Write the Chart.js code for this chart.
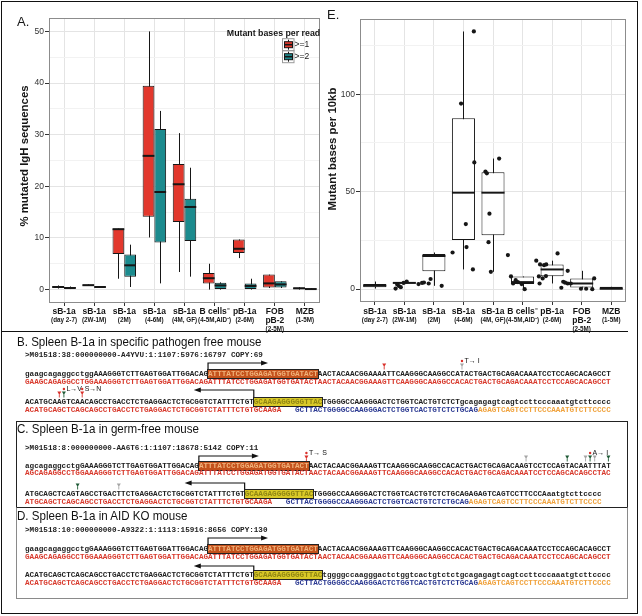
<!DOCTYPE html>
<html>
<head>
<meta charset="utf-8">
<script src="https://cdn.jsdelivr.net/npm/chart.js@4.4.1/dist/chart.umd.min.js"></script>
<style>
body { margin: 0; background: #fff; }
#fig { position: relative; width: 642px; height: 616px; overflow: hidden; font-family: "Liberation Sans", Arial, sans-serif; }
canvas { position: absolute; top: 0; }
.frame { position: absolute; box-sizing: border-box; }
.title { position: absolute; font-size: 13px; line-height: 16px; color: #111; white-space: nowrap; transform: scaleX(0.89); transform-origin: 0 50%; }
.seq { position: absolute; left: 25px; font: bold 7.63px/8px "Liberation Mono", "Courier New", monospace; white-space: pre; color: #222; }
.rd { color: #222; }
.gr { color: #d8392c; }
.bl { color: #2c3a92; }
.or { color: #f0a23c; }
.boxor { background: #c4521c; color: #f1b27a; outline: 1px solid #222; }
.boxye { background: #d9c928; color: #8f8512; outline: 1px solid #222; }
.lab { position: absolute; font-size: 7px; line-height: 8px; color: #111; white-space: nowrap; }
</style>
</head>
<body>
<div id="fig">
  <canvas id="chartA" width="322" height="333" style="left:0"></canvas>
  <canvas id="chartE" width="317" height="333" style="left:320px"></canvas>
  <div class="frame" style="left:1px;top:1px;width:637px;height:613px;border:1.5px solid #111"></div>
  <div class="frame" style="left:1px;top:331px;width:627px;height:0;border-top:1.5px solid #111"></div>
  <div class="frame" style="left:16px;top:421px;width:612px;height:87px;border:1px solid #222"></div>
  <div class="frame" style="left:16px;top:507px;width:612px;height:92px;border:1.5px solid #8a8a8a;border-top:1px solid #222"></div>
  <svg id="marks" width="642" height="616" style="position:absolute;left:0;top:0"></svg>
</div>
<script>
// ---- categories (shared by panels A and E)
const categories = ['sB-1a', 'sB-1a', 'sB-1a', 'sB-1a', 'sB-1a', 'B cells⁻', 'pB-1a', 'FOB', 'MZB'];
const categoryLine2 = ['', '', '', '', '', '', '', 'pB-2', ''];
const categorySub = ['(day 2-7)', '(2W-1M)', '(2M)', '(4-6M)', '(4M, GF)', '(4-5M,AID⁻)', '(2-6M)', '(2-5M)', '(1-5M)'];

// ---- panel A: % mutated IgH sequences, >=1 mutant base per read
const redLow  = [0.2, 0.7, 2.1, 10.1, 3.4, 0.0, 6.1, 0.3, 0.0];
const redQ1   = [0.3, 0.75, 6.9, 14.1, 13.1, 1.2, 7.1, 0.4, 0.1];
const redMed  = [0.5, 0.85, 11.7, 25.9, 20.4, 2.2, 7.9, 1.2, 0.25];
const redQ3   = [0.7, 1.0, 11.8, 39.5, 24.3, 3.2, 9.7, 2.9, 0.4];
const redHigh = [0.8, 1.0, 11.8, 50.0, 30.3, 5.0, 9.7, 2.9, 0.45];
// >=2 mutant bases per read
const tealLow  = [0.1, 0.4, 0.5, 1.2, 2.5, 0.0, 0.0, 0.3, 0.0];
const tealQ1   = [0.2, 0.45, 2.5, 9.1, 9.4, 0.1, 0.1, 0.4, 0.05];
const tealMed  = [0.3, 0.5, 4.7, 18.9, 16.0, 0.8, 0.7, 1.0, 0.1];
const tealQ3   = [0.5, 0.55, 6.8, 31.1, 17.6, 1.3, 1.2, 1.6, 0.2];
const tealHigh = [0.6, 0.6, 8.7, 34.6, 23.6, 1.4, 2.1, 1.6, 0.25];
const legendLabels = ['>=1', '>=2'];

// ---- panel E: mutant bases per 10kb
const eLow  = [0.3, 2.6, 1.7, 10.1, 8.9, 0.0, 2.9, 0.7, 0.0];
const eQ1   = [1.0, 2.9, 9.2, 25.2, 27.7, 2.6, 6.6, 0.9, 0.0];
const eMed  = [1.8, 3.2, 17.0, 49.5, 49.5, 3.6, 10.1, 2.9, 0.2];
const eQ3   = [2.6, 3.4, 18.0, 87.7, 60.0, 6.5, 12.7, 5.5, 1.2];
const eHigh = [3.9, 3.4, 18.8, 132.2, 67.0, 6.5, 14.6, 9.4, 1.2];
// individual mice, horizontal jitter (in category widths) and value
const ePointOff = [
  [-0.12, -0.05, 0.02, 0.1, 0.22, 0.35],
  [-0.15, 0.0, 0.08, 0.28, 0.36],
  [-0.17, 0.29],
  [-0.35, 0.19, 0.21, -0.15, -0.12, 0.15],
  [-0.32, -0.26, 0.26, -0.15, -0.19, -0.09],
  [-0.37, -0.24, -0.15, -0.04, 0.05, 0.21, 0.34],
  [-0.17, -0.01, 0.16, 0.25, -0.06, 0.1, -0.03, 0.24],
  [-0.27, 0.16, -0.03, 0.16, -0.11, 0.29, 0.05],
  [0.28, -0.06, 0.2, -0.28]
];
const ePointVal = [
  [0.3, 2.4, 1.6, 1.0, 3.2, 3.9],
  [2.6, 3.2, 3.4, 2.9, 5.2],
  [1.7, 18.8],
  [95.2, 132.2, 65.0, 33.4, 21.6, 10.1],
  [60.3, 59.4, 67.0, 38.7, 24.1, 8.9],
  [17.5, 6.5, 2.9, 4.6, 3.6, 2.6, 0.0],
  [14.6, 12.7, 12.3, 12.7, 6.5, 5.5, 2.9, 6.7],
  [18.3, 9.4, 3.8, 2.9, 0.7, 2.9, 3.3],
  [5.5, 0.2, 0.0, 0.2]
];

const RED = '#e2382d';
const TEAL = '#1c8b8e';
const INK = '#161616';
const FONT = '"Liberation Sans", Arial, sans-serif';
Chart.defaults.font.family = FONT;

// whiskers under the box, median line on top of it
const boxParts = {
  id: 'boxParts',
  beforeDatasetDraw(chart, args) {
    const ds = chart.data.datasets[args.index];
    if (!ds.whiskerLow) return;
    const y = chart.scales.y, ctx = chart.ctx;
    ctx.save();
    ctx.strokeStyle = INK;
    ctx.lineWidth = 1;
    args.meta.data.forEach((bar, i) => {
      const x = Math.round(bar.x) + 0.5;
      ctx.beginPath();
      ctx.moveTo(x, y.getPixelForValue(ds.whiskerLow[i]));
      ctx.lineTo(x, y.getPixelForValue(ds.whiskerHigh[i]));
      ctx.stroke();
    });
    ctx.restore();
  },
  afterDatasetDraw(chart, args) {
    const ds = chart.data.datasets[args.index];
    if (!ds.median) return;
    const y = chart.scales.y, ctx = chart.ctx;
    ctx.save();
    ctx.strokeStyle = INK;
    ctx.lineWidth = 2;
    args.meta.data.forEach((bar, i) => {
      const ym = y.getPixelForValue(ds.median[i]);
      ctx.beginPath();
      ctx.moveTo(bar.x - bar.width / 2, ym);
      ctx.lineTo(bar.x + bar.width / 2, ym);
      ctx.stroke();
    });
    ctx.restore();
  }
};

// panel border, category labels, axis title and panel letter
function decorate(chart, letter, letterX, letterY, yTitle, titleX, titleY) {
  const ctx = chart.ctx, a = chart.chartArea, x = chart.scales.x;
  ctx.save();
  ctx.strokeStyle = '#8c8c8c';
  ctx.lineWidth = 1;
  ctx.strokeRect(a.left + 0.5, a.top + 0.5, a.right - a.left - 1, a.bottom - a.top - 1);

  ctx.fillStyle = INK;
  ctx.textAlign = 'center';
  ctx.textBaseline = 'middle';
  categories.forEach((name, i) => {
    const px = x.getPixelForValue(i);
    ctx.font = 'bold 8.5px ' + FONT;
    ctx.fillText(name, px, 311.5);
    let ys = 320;
    if (categoryLine2[i]) {
      ctx.fillText(categoryLine2[i], px, 320.5);
      ys = 329.5;
    }
    ctx.font = 'bold 6.3px ' + FONT;
    ctx.fillText(categorySub[i], px, ys);
  });

  ctx.font = '13px ' + FONT;
  ctx.textAlign = 'left';
  ctx.fillText(letter, letterX, letterY);

  ctx.translate(titleX, titleY);
  ctx.rotate(-Math.PI / 2);
  ctx.font = 'bold 11.4px ' + FONT;
  ctx.textAlign = 'center';
  ctx.fillText(yTitle, 0, 0);
  ctx.restore();
}

function yGrid(major, minor) {
  return {
    color: c => c.tick.value % major === 0 ? '#e4e4e4' : (c.tick.value % minor === 0 ? '#f2f2f2' : 'transparent'),
    tickColor: c => c.tick.value % major === 0 ? '#333' : 'transparent',
    tickLength: 4
  };
}

const xAxis = (h) => ({
  grid: { offset: false, color: '#e4e4e4', tickColor: '#333', tickLength: 3 },
  border: { display: false },
  ticks: { display: false },
  afterFit: s => { s.height = h; }
});

// ---- panel A chart
new Chart(document.getElementById('chartA'), {
  type: 'bar',
  data: {
    labels: categories,
    datasets: [
      {
        label: legendLabels[0],
        data: redQ1.map((q, i) => [q, redQ3[i]]),
        backgroundColor: RED, borderColor: INK, borderWidth: 1, borderSkipped: false,
        categoryPercentage: 0.78, barPercentage: 1,
        whiskerLow: redLow, whiskerHigh: redHigh, median: redMed
      },
      {
        label: legendLabels[1],
        data: tealQ1.map((q, i) => [q, tealQ3[i]]),
        backgroundColor: TEAL, borderColor: INK, borderWidth: 1, borderSkipped: false,
        categoryPercentage: 0.78, barPercentage: 1,
        whiskerLow: tealLow, whiskerHigh: tealHigh, median: tealMed
      }
    ]
  },
  options: {
    responsive: false,
    animation: false,
    layout: { padding: { top: 18, right: 2, left: 0, bottom: 0 } },
    plugins: { legend: { display: false }, tooltip: { enabled: false } },
    scales: {
      x: xAxis(30),
      y: {
        min: -2.6, max: 52.6,
        ticks: { stepSize: 5, maxTicksLimit: 30, padding: 1, color: '#333', font: { size: 8.5 },
                 callback: v => v % 10 === 0 ? v : '' },
        grid: yGrid(10, 5),
        border: { display: false },
        afterFit: s => { s.width = 49; }
      }
    }
  },
  plugins: [boxParts, {
    id: 'panelA',
    afterDraw(chart) {
      decorate(chart, 'A.', 17, 22, '% mutated IgH sequences', 25, 156);
      // legend
      const ctx = chart.ctx;
      ctx.save();
      ctx.fillStyle = INK;
      ctx.font = 'bold 8.8px ' + FONT;
      ctx.textAlign = 'center';
      ctx.textBaseline = 'middle';
      ctx.fillText('Mutant bases per read', 273.5, 33.5);
      [RED, TEAL].forEach((col, k) => {
        const cy = 44.7 + k * 12;
        ctx.strokeStyle = '#9a9a9a';
        ctx.lineWidth = 1;
        ctx.strokeRect(282.5, cy - 6, 11.5, 12);
        ctx.strokeStyle = INK;
        ctx.beginPath(); ctx.moveTo(288.5, cy - 5); ctx.lineTo(288.5, cy + 5); ctx.stroke();
        ctx.fillStyle = col;
        ctx.fillRect(284.5, cy - 3, 8, 6);
        ctx.strokeRect(284.5, cy - 3, 8, 6);
        ctx.lineWidth = 1.6;
        ctx.beginPath(); ctx.moveTo(284.5, cy); ctx.lineTo(292.5, cy); ctx.stroke();
        ctx.fillStyle = INK;
        ctx.font = '8.5px ' + FONT;
        ctx.textAlign = 'left';
        ctx.fillText(legendLabels[k], 294.5, cy);
      });
      ctx.restore();
    }
  }]
});

// ---- panel E chart
const ePoints = [];
ePointOff.forEach((offs, i) => offs.forEach((o, j) => ePoints.push({ x: i + o, y: ePointVal[i][j] })));

new Chart(document.getElementById('chartE'), {
  type: 'bar',
  data: {
    labels: categories,
    datasets: [
      {
        type: 'scatter', xAxisID: 'xj', data: ePoints, order: 0,
        pointRadius: 2.1, backgroundColor: INK, borderWidth: 0
      },
      {
        data: eQ1.map((q, i) => [q, eQ3[i]]), order: 1, grouped: false,
        backgroundColor: '#fff', borderColor: INK, borderWidth: 1, borderSkipped: false,
        categoryPercentage: 0.78, barPercentage: 1,
        whiskerLow: eLow, whiskerHigh: eHigh, median: eMed
      }
    ]
  },
  options: {
    responsive: false,
    animation: false,
    layout: { padding: { top: 19, right: 11, left: 0, bottom: 0 } },
    plugins: { legend: { display: false }, tooltip: { enabled: false } },
    scales: {
      x: xAxis(31),
      xj: { type: 'linear', display: false, min: -0.5, max: 8.5 },
      y: {
        min: -6.6, max: 138.6,
        ticks: { stepSize: 25, padding: 1, color: '#333', font: { size: 8.5 },
                 callback: v => v % 50 === 0 ? v : '' },
        grid: yGrid(50, 25),
        border: { display: false },
        afterFit: s => { s.width = 40; }
      }
    }
  },
  plugins: [boxParts, {
    id: 'panelE',
    afterDraw(chart) {
      decorate(chart, 'E.', 7, 15, 'Mutant bases per 10kb', 13, 149);
    }
  }]
});

// ---- sequence panels B, C, D
const fig = document.getElementById('fig');
const probe = document.createElement('span');
probe.className = 'seq';
probe.textContent = 'A'.repeat(100);
fig.appendChild(probe);
const CW = probe.getBoundingClientRect().width / 100;
probe.remove();

let svg = '';
const colors = { r: '#d9312b', g: '#1f5a36', y: '#a5a5a5' };

function title(text, left, cy) {
  const d = document.createElement('div');
  d.className = 'title';
  d.style.left = left + 'px';
  d.style.top = (cy - 8) + 'px';
  d.textContent = text;
  fig.appendChild(d);
}
function line(cy, parts) {
  const d = document.createElement('div');
  d.className = 'seq';
  d.style.top = (cy - 4) + 'px';
  parts.forEach(([t, c]) => {
    const s = document.createElement('span');
    s.className = c;
    s.textContent = t;
    d.appendChild(s);
  });
  fig.appendChild(d);
}
const cx = i => 25 + (i + 0.5) * CW;
function marker(i, readY, c) {
  const x = cx(i), t = readY - 10;
  svg += `<polygon points="${x - 2},${t} ${x + 2},${t} ${x},${t + 3.5}" fill="${colors[c]}"/>`;
  svg += `<line x1="${x}" y1="${t + 3}" x2="${x}" y2="${t + 6}" stroke="${colors[c]}" stroke-width="0.9"/>`;
}
function change(i, readY, text, dx) {
  svg += `<circle cx="${cx(i)}" cy="${readY - 12.5}" r="1.2" fill="${colors.r}"/>`;
  const d = document.createElement('div');
  d.className = 'lab';
  d.style.left = (cx(i) + (dx || 2.5)) + 'px';
  d.style.top = (readY - 16.5) + 'px';
  d.textContent = text;
  fig.appendChild(d);
}
function fwdArrow(i, readY, ay) {
  const x = 25 + i * CW;
  svg += `<path d="M${x} ${readY - 4.5} V${ay} H${x + 54}" fill="none" stroke="#111" stroke-width="1.2"/>`;
  svg += `<polygon points="${x + 60},${ay} ${x + 53},${ay - 2.6} ${x + 53},${ay + 2.6}" fill="#111"/>`;
}
function revArrow(i, readY, ay) {
  const x = 25 + i * CW;
  svg += `<path d="M${x} ${readY - 4.5} V${ay} H${x - 54}" fill="none" stroke="#111" stroke-width="1.2"/>`;
  svg += `<polygon points="${x - 60},${ay} ${x - 53},${ay - 2.6} ${x - 53},${ay + 2.6}" fill="#111"/>`;
}

const V_GERM = 'GAAGCAGAGGCCTGGAAAGGGTCTTGAGTGGATTGGACAGATTTATCCTGGAGATGGTGATACTAACTACAACGGAAAGTTCAAGGGCAAGGCCACACTGACTGCAGACAAATCCTCCAGCACAGCCT';
const J_BLUE = 'GCTTACTGGGGCCAAGGGACTCTGGTCACTGTCTCTGCAG';
const J_TAIL = 'AGAGTCAGTCCTTCCCAAATGTCTTCCCC';
const FWD = 'ATTTATCCTGGAGATGGTGATACT';
const REV = 'GCAAGAGGGGGTTAC';

// B
title('B. Spleen B-1a in specific pathogen free mouse', 17, 341.5);
line(355, [['>M01518:38:000000000-A4YVU:1:1107:5976:16797 COPY:69', 'rd']]);
line(373.5, [['gaagcagaggcctggAAAGGGTCTTGAGTGGATTGGACAG', 'rd'], [FWD, 'boxor'],
  ['AACTACAACGGAAAATTCAAGGGCAAGGCCATACTGACTGCAGACAAATCCTCCAGCACAGCCT', 'rd']]);
line(382, [[V_GERM, 'gr']]);
line(401.5, [['ACATGCAAGTCAACAGCCTGACCTCTGAGGACTCTGCGGTCTATTTCTGT', 'rd'], [REV, 'boxye'],
  ['TGGGGCCAAGGGACTCTGGTCACTGTCTCTgcagagagtcagtccttcccaaatgtcttcccc', 'rd']]);
line(410, [['ACATGCAGCTCAGCAGCCTGACCTCTGAGGACTCTGCGGTCTATTTCTGTGCAAGA   ', 'gr'], [J_BLUE, 'bl'], [J_TAIL, 'or']]);
fwdArrow(40, 373.5, 363);
revArrow(50, 401.5, 390);
marker(78, 373.5, 'r');
marker(95, 373.5, 'y');
change(95, 373.5, 'T→ I');
marker(7, 401.5, 'r');
marker(8, 401.5, 'g');
marker(12, 401.5, 'r');
change(8, 401.5, 'L→V');
change(12, 401.5, 'S→N');

// C
title('C. Spleen B-1a in germ-free mouse', 17, 429);
line(448, [['>M01518:8:000000000-AA6T6:1:1107:18678:5142 COPY:11', 'rd']]);
line(465.5, [['agcagaggcctgGAAAGGGTCTTGAGTGGATTGGACAG', 'rd'], [FWD, 'boxor'],
  ['AACTACAACGGAAAGTTCAAGGGCAAGGCCACACTGACTGCAGACAAGTCCTCCAGTACAATTTAT', 'rd']]);
line(473, [[V_GERM.slice(2) + 'AC', 'gr']]);
line(493.5, [['ATGCAGCTCAGTAGCCTGACTTCTGAGGACTCTGCGGTCTATTTCTGT', 'rd'], [REV, 'boxye'],
  ['TGGGGCCAAGGGACTCTGGTCACTGTCTCTGCAGAGAGTCAGTCCTTCCCAaatgtcttcccc', 'rd']]);
line(502, [['ATGCAGCTCAGCAGCCTGACCTCTGAGGACTCTGCGGTCTATTTCTGTGCAAGA   ', 'gr'], [J_BLUE, 'bl'], [J_TAIL, 'or']]);
fwdArrow(38, 465.5, 456);
revArrow(48, 493.5, 483);
marker(61, 465.5, 'r');
change(61, 465.5, 'T→ S');
marker(109, 465.5, 'y');
marker(118, 465.5, 'g');
marker(122, 465.5, 'y');
marker(123, 465.5, 'g');
marker(124, 465.5, 'y');
marker(127, 465.5, 'g');
change(123, 465.5, 'A→ I');
marker(11, 493.5, 'g');
marker(20, 493.5, 'y');

// D
title('D. Spleen B-1a in AID KO mouse', 17, 516);
line(529.5, [['>M01518:10:000000000-A9322:1:1113:15916:8656 COPY:130', 'rd']]);
line(549, [['gaagcagaggcctgGAAAGGGTCTTGAGTGGATTGGACAG', 'rd'], [FWD, 'boxor'],
  ['AACTACAACGGAAAGTTCAAGGGCAAGGCCACACTGACTGCAGACAAATCCTCCAGCACAGCCT', 'rd']]);
line(556.5, [[V_GERM, 'gr']]);
line(575, [['ACATGCAGCTCAGCAGCCTGACCTCTGAGGACTCTGCGGTCTATTTCTGT', 'rd'], [REV, 'boxye'],
  ['tggggccaagggactctggtcactgtctctgcagagagtcagtccttcccaaatgtcttcccc', 'rd']]);
line(583, [['ACATGCAGCTCAGCAGCCTGACCTCTGAGGACTCTGCGGTCTATTTCTGTGCAAGA   ', 'gr'], [J_BLUE, 'bl'], [J_TAIL, 'or']]);
fwdArrow(40, 549, 538);
revArrow(50, 575, 566);

document.getElementById('marks').innerHTML = svg;
</script>
</body>
</html>
